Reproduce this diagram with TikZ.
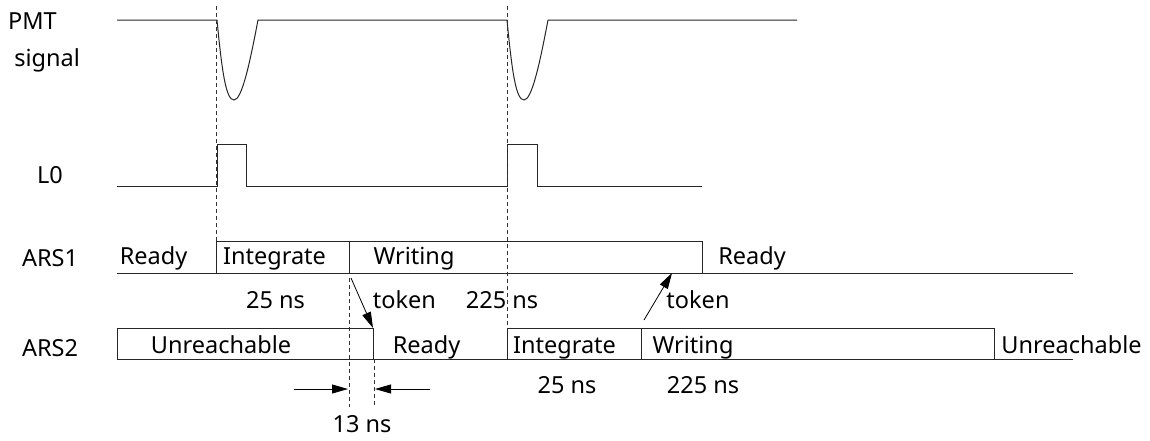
\documentclass[tikz,border=0pt]{standalone}
\usepackage{fontspec}
\setmainfont{Noto Sans}
\usetikzlibrary{arrows.meta}
\begin{document}
\begin{tikzpicture}[x=1pt,y=-1pt,
  wire/.style={line width=1pt, draw=black!85},
  lbl/.style={font=\fontsize{23.5}{28}\selectfont, inner sep=0pt, anchor=base},
  guide/.style={dash pattern=on 4pt off 3pt, line width=0.8pt, draw=black!80},
  tok/.style={-{Triangle[length=16pt,width=9pt]}, line width=0.8pt},
]
\useasboundingbox (0,0) rectangle (1150,440);

% ---- labels on the left
\node[font=\fontsize{23.5}{37}\selectfont, inner sep=0pt, align=left, anchor=north west] (pmt) at (8,13) {PMT\\\hspace{0.26em}signal};
\node[lbl] (l0) at (50,183) {L0};
\node[lbl] (ars1) at (50,266) {ARS1};
\node[lbl] (ars2) at (50,356) {ARS2};

% ---- PMT signal
\draw[wire] (117,20) -- (217,20)
  .. controls (222,72) and (226,100) .. (234,100)
  .. controls (242,100) and (250,62) .. (258,20)
  -- (507,20)
  .. controls (512,72) and (516,100) .. (524,100)
  .. controls (532,100) and (540,62) .. (548,20)
  -- (797,20);

% ---- L0
\draw[wire] (117,186) -- (217,186) -- (217,144) -- (246,144) -- (246,186)
  -- (507,186) -- (507,144) -- (537,144) -- (537,186) -- (702,186);

% ---- ARS1
\draw[wire] (117,273) -- (1073,273);
\draw[wire] (216.5,241) rectangle (702,273);
\draw[wire] (349,241) -- (349,273);
\node[lbl] (r1ready) at (153.5,264) {Ready};
\node[lbl] (r1int) at (274.5,264) {Integrate};
\node[lbl] (r1wr) at (414,264) {Writing};
\node[lbl] (r1ready2) at (752,264) {Ready};

% ---- ARS2
\draw[wire] (117,359) -- (1073,359);
\draw[wire] (117,328) rectangle (373,359);
\draw[wire] (507,328) rectangle (994,359);
\draw[wire] (641,328) -- (641,359);
\node[lbl] (r2unr) at (221,353) {Unreachable};
\node[lbl] (r2ready) at (426.5,353) {Ready};
\node[lbl] (r2int) at (564.5,353) {Integrate};
\node[lbl] (r2wr) at (693,353) {Writing};
\node[lbl] (r2unr2) at (1071.5,353) {Unreachable};

% ---- guides
\coordinate (g1a) at (216.5,6);   \coordinate (g1b) at (216.5,241);
\coordinate (g2a) at (507,6);     \coordinate (g2b) at (507,328);
\coordinate (g3a) at (349,278);   \coordinate (g3b) at (349,407);
\coordinate (g4a) at (374,359);   \coordinate (g4b) at (374,407);
\draw[guide] (g1a) -- (g1b);
\draw[guide] (g2a) -- (g2b);
\draw[guide] (g3a) -- (g3b);
\draw[guide] (g4a) -- (g4b);

% ---- durations
\node[lbl] (d25a) at (275.5,308) {25 ns};
\node[lbl] (tok1) at (404.5,308) {token};
\node[lbl] (d225a) at (502,308) {225 ns};
\node[lbl] (tok2) at (698,308) {token};
\node[lbl] (d25b) at (567,393) {25 ns};
\node[lbl] (d225b) at (703,393) {225 ns};
\node[lbl] (d13) at (362,432) {13 ns};

% ---- token arrows
\coordinate (t1s) at (351,278); \coordinate (t1e) at (373,328);
\coordinate (t2s) at (644,320); \coordinate (t2e) at (672,273);
\draw[tok] (t1s) -- (t1e);
\draw[tok] (t2s) -- (t2e);

% ---- 13 ns arrows
\coordinate (a1s) at (294,389); \coordinate (a1e) at (348,389);
\coordinate (a2s) at (430,389); \coordinate (a2e) at (375,389);
\draw[tok] (a1s) -- (a1e);
\draw[tok] (a2s) -- (a2e);
\end{tikzpicture}
\end{document}
